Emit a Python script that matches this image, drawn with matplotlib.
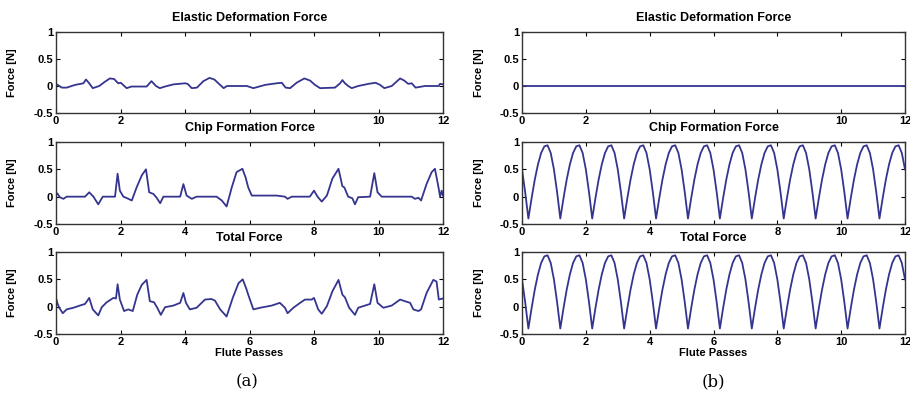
import numpy as np
import matplotlib
matplotlib.use("Agg")
import matplotlib.pyplot as plt

plt.rcParams['font.family'] = ['Liberation Sans', 'DejaVu Sans']

# (a) valores
elastic_a_x = [0, 0.18, 0.33, 0.59, 0.85, 0.93, 1.03, 1.14, 1.34, 1.52, 1.67, 1.80, 1.93, 2.01,
               2.19, 2.34, 2.81, 2.96, 3.10, 3.22, 3.38, 3.64, 4.00, 4.08, 4.21, 4.37, 4.57, 4.76,
               4.91, 5.09, 5.20, 5.30, 5.92, 6.12, 6.48, 6.84, 7.00, 7.12, 7.26, 7.46, 7.70, 7.88,
               8.03, 8.19, 8.65, 8.81, 8.88, 8.96, 9.06, 9.17, 9.37, 9.69, 9.91, 10.05, 10.18,
               10.41, 10.67, 10.80, 10.92, 11.03, 11.15, 11.44, 11.86, 11.91, 12.0]
elastic_a = [0.04, -0.03, -0.03, 0.02, 0.05, 0.12, 0.05, -0.04, 0.0, 0.08, 0.14, 0.13, 0.05, 0.06,
             -0.04, -0.01, -0.01, 0.09, 0.0, -0.04, -0.01, 0.03, 0.05, 0.04, -0.04, -0.03, 0.09, 0.15,
             0.12, 0.02, -0.04, 0.0, 0.0, -0.04, 0.02, 0.05, 0.06, -0.03, -0.04, 0.06, 0.14, 0.10,
             0.02, -0.04, -0.03, 0.05, 0.11, 0.05, 0.0, -0.04, 0.0, 0.04, 0.06, 0.02, -0.04,
             0.0, 0.14, 0.10, 0.04, 0.05, -0.03, 0.0, 0.0, 0.04, 0.03]

chip_a_x = [0, 0.04, 0.12, 0.23, 0.33, 0.90, 1.03, 1.16, 1.31, 1.45, 1.83, 1.91, 1.98, 2.09,
            2.21, 2.35, 2.50, 2.66, 2.79, 2.89, 3.02, 3.12, 3.23, 3.33, 3.85, 3.95, 4.05, 4.21,
            4.36, 4.98, 5.14, 5.29, 5.45, 5.60, 5.78, 5.88, 5.96, 6.07, 6.84, 7.10, 7.18, 7.31,
            7.87, 8.00, 8.11, 8.24, 8.40, 8.57, 8.76, 8.88, 8.94, 9.06, 9.19, 9.27, 9.37, 9.74,
            9.87, 9.97, 10.10, 11.03, 11.13, 11.24, 11.32, 11.49, 11.65, 11.75, 11.86, 11.91,
            11.96, 12.0]
chip_a = [0.05, 0.06, -0.01, -0.04, 0.0, 0.0, 0.08, 0.0, -0.14, 0.0, 0.0, 0.42, 0.11, 0.0,
          -0.03, -0.07, 0.17, 0.39, 0.50, 0.08, 0.05, -0.02, -0.12, 0.0, 0.0, 0.23, 0.02, -0.04,
          0.0, 0.0, -0.07, -0.18, 0.17, 0.45, 0.51, 0.35, 0.17, 0.02, 0.02, 0.0, -0.04, 0.0,
          0.0, 0.11, 0.0, -0.09, 0.02, 0.33, 0.51, 0.19, 0.17, 0.0, -0.03, -0.14, -0.01, 0.0,
          0.43, 0.08, 0.0, 0.0, -0.04, -0.02, -0.07, 0.23, 0.45, 0.51, 0.17, 0.0,
          0.11, 0.02]

total_a_x = [0, 0.04, 0.10, 0.21, 0.33, 0.54, 0.74, 0.90, 1.03, 1.14, 1.31, 1.42, 1.57, 1.78,
             1.86, 1.91, 1.98, 2.11, 2.24, 2.38, 2.52, 2.66, 2.81, 2.91, 3.04, 3.14, 3.25, 3.38,
             3.64, 3.85, 3.95, 4.03, 4.15, 4.36, 4.62, 4.82, 4.93, 5.09, 5.29, 5.48, 5.66, 5.79,
             5.90, 5.96, 6.12, 6.33, 6.69, 6.94, 7.10, 7.18, 7.36, 7.57, 7.72, 7.93, 8.00, 8.13,
             8.24, 8.40, 8.57, 8.76, 8.88, 8.96, 9.09, 9.27, 9.37, 9.74, 9.87, 9.97, 10.15, 10.41,
             10.67, 10.82, 10.98, 11.08, 11.24, 11.32, 11.49, 11.70, 11.80, 11.87, 12.0]
total_a = [0.16, 0.07, -0.02, -0.12, -0.05, -0.02, 0.02, 0.05, 0.16, -0.05, -0.16, -0.01, 0.08, 0.16,
           0.15, 0.41, 0.13, -0.08, -0.05, -0.08, 0.22, 0.40, 0.49, 0.10, 0.08, -0.02, -0.15, -0.01,
           0.02, 0.07, 0.25, 0.07, -0.05, -0.02, 0.13, 0.14, 0.11, -0.05, -0.18, 0.16, 0.43, 0.50,
           0.33, 0.22, -0.05, -0.02, 0.02, 0.07, -0.02, -0.12, -0.02, 0.07, 0.13, 0.13, 0.16, -0.05,
           -0.13, 0.01, 0.28, 0.49, 0.22, 0.17, -0.02, -0.15, -0.02, 0.05, 0.41, 0.07, -0.02, 0.02,
           0.13, 0.10, 0.07, -0.05, -0.08, -0.05, 0.25, 0.49, 0.46, 0.13, 0.15]

# (b) muestras cada 0.1 pasadas
passes_b = np.linspace(0, 12, 121)
chip_b = [0.50, 0.08,
          -0.40, -0.03, 0.31, 0.59, 0.80, 0.92, 0.94, 0.80, 0.50, 0.08,
          -0.40, -0.03, 0.31, 0.59, 0.80, 0.92, 0.94, 0.80, 0.50, 0.08,
          -0.40, -0.03, 0.31, 0.59, 0.80, 0.92, 0.94, 0.80, 0.50, 0.08,
          -0.40, -0.03, 0.31, 0.59, 0.80, 0.92, 0.94, 0.80, 0.50, 0.08,
          -0.40, -0.03, 0.31, 0.59, 0.80, 0.92, 0.94, 0.80, 0.50, 0.08,
          -0.40, -0.03, 0.31, 0.59, 0.80, 0.92, 0.94, 0.80, 0.50, 0.08,
          -0.40, -0.03, 0.31, 0.59, 0.80, 0.92, 0.94, 0.80, 0.50, 0.08,
          -0.40, -0.03, 0.31, 0.59, 0.80, 0.92, 0.94, 0.80, 0.50, 0.08,
          -0.40, -0.03, 0.31, 0.59, 0.80, 0.92, 0.94, 0.80, 0.50, 0.08,
          -0.40, -0.03, 0.31, 0.59, 0.80, 0.92, 0.94, 0.80, 0.50, 0.08,
          -0.40, -0.03, 0.31, 0.59, 0.80, 0.92, 0.94, 0.80, 0.50, 0.08,
          -0.40, -0.03, 0.31, 0.59, 0.80, 0.92, 0.94, 0.80, 0.50]
elastic_b_x = [0, 12]
elastic_b = [0.0, 0.0]
total_b = chip_b  # la fuerza elastica es cero en (b)

titles = ['Elastic Deformation Force', 'Chip Formation Force', 'Total Force']
xticks = [0, 2, 4, 6, 8, 10, 12]
# etiquetas que quedan tapadas por el titulo de abajo en el original
xtick_labels = [
    ['0', '2', '', '', '', '10', '12'],
    ['0', '2', '4', '', '8', '10', '12'],
    ['0', '2', '4', '6', '8', '10', '12'],
]
yticks = [-0.5, 0, 0.5, 1]
ytick_labels = ['-0.5', '0', '0.5', '1']
line_color = '#35358f'

fig = plt.figure(figsize=(9.1, 4.04), dpi=100)

W, H = 910, 404
cols = [(56, 443), (522, 905)]
rows = [(32, 113), (142, 224), (252, 334)]

series = [
    [(elastic_a_x, elastic_a), (chip_a_x, chip_a), (total_a_x, total_a)],
    [(elastic_b_x, elastic_b), (passes_b, chip_b), (passes_b, total_b)],
]

for c, (x0, x1) in enumerate(cols):
    for r, (y0, y1) in enumerate(rows):
        ax = fig.add_axes([x0 / W, 1 - y1 / H, (x1 - x0) / W, (y1 - y0) / H])
        xs, ys = series[c][r]
        ax.plot(xs, ys, color=line_color, linewidth=1.3)
        ax.set_xlim(0, 12)
        ax.set_ylim(-0.5, 1)
        ax.set_xticks(xticks)
        ax.set_xticklabels(xtick_labels[r], fontweight='bold', fontsize=8)
        ax.set_yticks(yticks)
        ax.set_yticklabels(ytick_labels, fontweight='bold', fontsize=8)
        ax.tick_params(direction='in', top=True, right=True, length=3, pad=2, width=0.8)
        for sp in ax.spines.values():
            sp.set_linewidth(1.0)
            sp.set_color('#333333')
        ax.set_title(titles[r], fontweight='bold', fontsize=9, pad=8)
        ax.set_ylabel('Force [N]', fontweight='bold', fontsize=8)
        ax.yaxis.set_label_coords(-0.1, 0.5)
        if r == 2:
            ax.set_xlabel('Flute Passes', fontweight='bold', fontsize=8, labelpad=1)

fig.text(247 / W, 1 - 382 / H, '(a)', ha='center', va='center', fontsize=12, family='DejaVu Serif')
fig.text(713 / W, 1 - 382 / H, '(b)', ha='center', va='center', fontsize=12, family='DejaVu Serif')

fig.savefig('out.png', dpi=100)
